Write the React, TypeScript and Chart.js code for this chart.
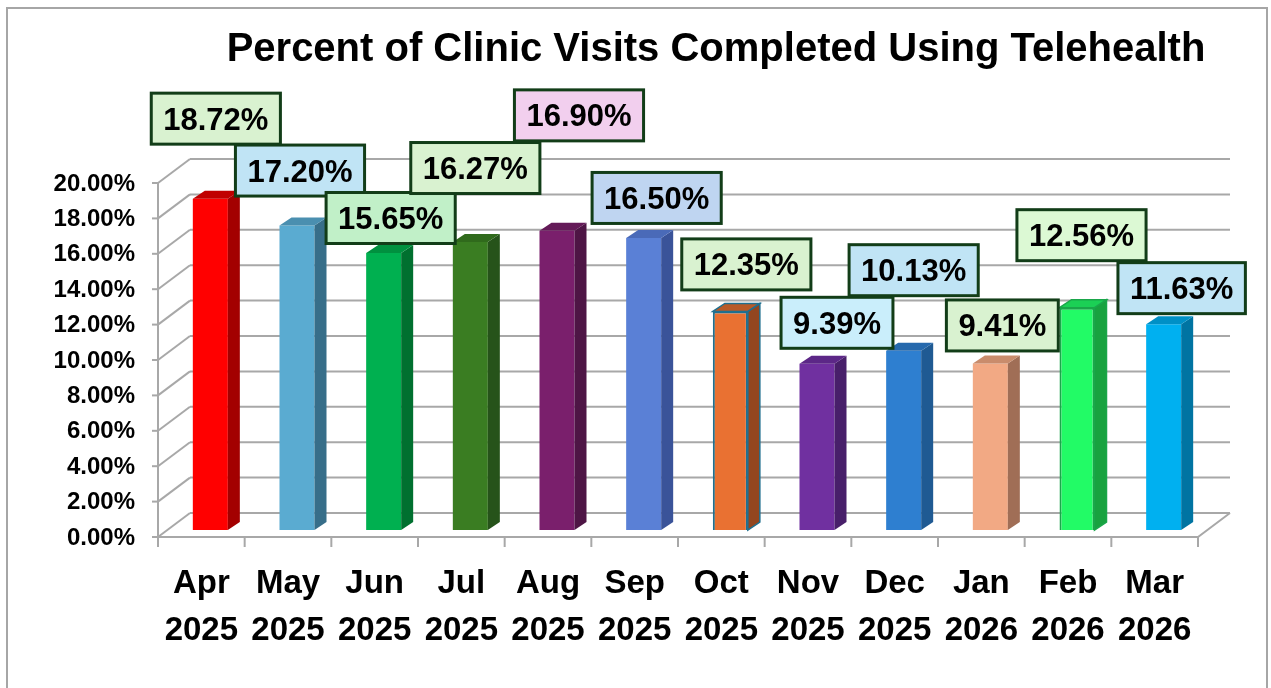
import React, { useEffect, useRef } from 'react';
import { Chart, registerables } from 'chart.js';

Chart.register(...registerables);

// ---------- data ----------
const MONTHS = ['Apr', 'May', 'Jun', 'Jul', 'Aug', 'Sep', 'Oct', 'Nov', 'Dec', 'Jan', 'Feb', 'Mar'];
const YEARS = ['2025', '2025', '2025', '2025', '2025', '2025', '2025', '2025', '2025', '2026', '2026', '2026'];
const TELEHEALTH_PCT = [18.72, 17.2, 15.65, 16.27, 16.9, 16.5, 12.35, 9.39, 10.13, 9.41, 12.56, 11.63];
const Y_TICKS = [0, 2, 4, 6, 8, 10, 12, 14, 16, 18, 20];
const TITLE = 'Percent of Clinic Visits Completed Using Telehealth';

// ---------- styles ----------
const FRONT_COLORS = ['#ff0000', '#5aabd1', '#00b050', '#3a7d22', '#7a1f6c', '#5a80d6', '#e97132', '#7030a0', '#2e7fd0', '#f2a984', '#22fb66', '#00b0f0'];
const SIDE_COLORS = ['#a30000', '#376e89', '#00702f', '#26531a', '#4e1545', '#3a5399', '#93461f', '#481f6a', '#1f5a93', '#a06e56', '#18a23f', '#0074a2'];
const TOP_COLORS = ['#c00000', '#4a8fb0', '#00913f', '#306a1c', '#641a58', '#4a6ab8', '#b85a28', '#5c2787', '#2669ad', '#c98c6c', '#1bd055', '#0090c6'];
const BORDER_COLORS = [null, null, null, null, null, null, '#1f6f8f', null, null, null, '#1aa64a', null];
const LABEL_FILLS = ['#d9f2d0', '#c0e4f5', '#c1f0c8', '#d9f2d0', '#f2cfee', '#bfd5f1', '#d9f2d0', '#caeefb', '#c0e4f5', '#d9f2d0', '#dcf9d4', '#c0e4f5'];
// label box centre, relative to bar centre / bar top (px)
const LABEL_SHIFT: [number, number][] = [
  [5.5, -80], [3, -55], [7, -35], [5, -74], [22, -115.5], [13, -40],
  [16, -47], [20, -41], [10, -80.5], [12, -38], [4.5, -72.5], [18, -36],
];

const FONT = '"Liberation Sans", Arial, sans-serif';
const GRID = '#a8a8a8';
const FRONT_DX = -9, FRONT_DY = 7;   // front plane relative to bar plane
const BACK_DX = 23, BACK_DY = -17;   // back wall relative to bar plane
const SIDE_DX = 12, SIDE_DY = -8;    // bar depth

const framePlugin = {
  id: 'frame3d',
  beforeDatasetsDraw(chart: any) {
    const { ctx, chartArea } = chart;
    const xs = chart.scales.x;
    const ys = chart.scales.y;
    ctx.save();
    // outer border
    ctx.strokeStyle = '#a6a6a6';
    ctx.lineWidth = 2;
    ctx.strokeRect(7, 8, 1260, 720);

    // title
    ctx.fillStyle = '#000';
    ctx.textAlign = 'center';
    ctx.textBaseline = 'alphabetic';
    ctx.font = `bold 36px ${FONT}`;
    const tw = ctx.measureText(TITLE).width;
    const size = Math.min(40, (36 * 985) / tw);
    ctx.font = `bold ${size}px ${FONT}`;
    ctx.fillText(TITLE, 716, 61);

    const left = chartArea.left, right = chartArea.right;
    const fl = left + FRONT_DX, fr = right + FRONT_DX;
    const bl = left + BACK_DX, br = right + BACK_DX;

    ctx.strokeStyle = GRID;
    ctx.lineWidth = 2;
    ctx.lineCap = 'butt';
    // back wall gridlines + left side diagonals + y ticks
    Y_TICKS.forEach((v) => {
      const y = ys.getPixelForValue(v);
      ctx.beginPath();
      ctx.moveTo(bl, y + BACK_DY);
      ctx.lineTo(br, y + BACK_DY);
      ctx.stroke();
      ctx.beginPath();
      ctx.moveTo(fl, y + FRONT_DY);
      ctx.lineTo(bl, y + BACK_DY);
      ctx.stroke();
      ctx.beginPath();
      ctx.moveTo(fl - 6, y + FRONT_DY);
      ctx.lineTo(fl, y + FRONT_DY);
      ctx.stroke();
    });
    // front vertical axis
    const yTop = ys.getPixelForValue(Y_TICKS[Y_TICKS.length - 1]);
    const y0 = ys.getPixelForValue(0);
    ctx.beginPath();
    ctx.moveTo(fl, yTop + FRONT_DY);
    ctx.lineTo(fl, y0 + FRONT_DY);
    ctx.stroke();
    // floor front edge + right diagonal
    ctx.beginPath();
    ctx.moveTo(fl, y0 + FRONT_DY);
    ctx.lineTo(fr, y0 + FRONT_DY);
    ctx.lineTo(br, y0 + BACK_DY);
    ctx.stroke();
    // x ticks
    const step = (right - left) / MONTHS.length;
    for (let k = 0; k <= MONTHS.length; k++) {
      const x = fl + step * k;
      ctx.beginPath();
      ctx.moveTo(x, y0 + FRONT_DY);
      ctx.lineTo(x, y0 + FRONT_DY + 10);
      ctx.stroke();
    }

    // y tick labels
    ctx.fillStyle = '#000';
    ctx.font = `bold 24px ${FONT}`;
    ctx.textAlign = 'right';
    ctx.textBaseline = 'middle';
    Y_TICKS.forEach((v) => {
      ctx.fillText(v.toFixed(2) + '%', 135, ys.getPixelForValue(v) + FRONT_DY + 1);
    });

    // x labels
    ctx.font = `bold 33px ${FONT}`;
    ctx.textAlign = 'center';
    ctx.textBaseline = 'alphabetic';
    MONTHS.forEach((m, i) => {
      const x = xs.getPixelForValue(i) + FRONT_DX;
      ctx.fillText(m, x, 593);
      ctx.fillText(YEARS[i], x, 640);
    });
    ctx.restore();
  },
  afterDatasetsDraw(chart: any) {
    const { ctx } = chart;
    const meta = chart.getDatasetMeta(0);
    ctx.save();
    meta.data.forEach((el: any, i: number) => {
      const { x, y, base, width } = el.getProps(['x', 'y', 'base', 'width'], true);
      const xl = x - width / 2, xr = x + width / 2;
      // side face
      ctx.beginPath();
      ctx.moveTo(xr, y);
      ctx.lineTo(xr + SIDE_DX, y + SIDE_DY);
      ctx.lineTo(xr + SIDE_DX, base + SIDE_DY);
      ctx.lineTo(xr, base);
      ctx.closePath();
      ctx.fillStyle = SIDE_COLORS[i];
      ctx.fill();
      const bc = BORDER_COLORS[i];
      if (bc) { ctx.strokeStyle = bc; ctx.lineWidth = 1.5; ctx.stroke(); }
      // top face
      ctx.beginPath();
      ctx.moveTo(xl, y);
      ctx.lineTo(xl + SIDE_DX, y + SIDE_DY);
      ctx.lineTo(xr + SIDE_DX, y + SIDE_DY);
      ctx.lineTo(xr, y);
      ctx.closePath();
      ctx.fillStyle = TOP_COLORS[i];
      ctx.fill();
      if (bc) { ctx.strokeStyle = bc; ctx.lineWidth = 1.5; ctx.stroke(); }
    });

    // data labels
    ctx.font = `bold 31px ${FONT}`;
    ctx.textAlign = 'center';
    ctx.textBaseline = 'alphabetic';
    meta.data.forEach((el: any, i: number) => {
      const { x, y } = el.getProps(['x', 'y'], true);
      const txt = TELEHEALTH_PCT[i].toFixed(2) + '%';
      const w = ctx.measureText(txt).width + 24;
      const h = 51;
      const cx = x + LABEL_SHIFT[i][0];
      const cy = y + LABEL_SHIFT[i][1];
      ctx.fillStyle = LABEL_FILLS[i];
      ctx.fillRect(cx - w / 2, cy - h / 2, w, h);
      ctx.strokeStyle = '#123d18';
      ctx.lineWidth = 3;
      ctx.strokeRect(cx - w / 2, cy - h / 2, w, h);
      ctx.fillStyle = '#000';
      ctx.fillText(txt, cx, cy + 11);
    });
    ctx.restore();
  },
};

export default function App() {
  const ref = useRef<HTMLCanvasElement>(null);
  useEffect(() => {
    if (!ref.current) return;
    const chart = new Chart(ref.current, {
      type: 'bar',
      data: {
        labels: MONTHS.map((m, i) => `${m} ${YEARS[i]}`),
        datasets: [
          {
            data: TELEHEALTH_PCT,
            backgroundColor: FRONT_COLORS,
            borderColor: BORDER_COLORS.map((c) => c || 'rgba(0,0,0,0)'),
            borderWidth: BORDER_COLORS.map((c) => (c ? 2 : 0)),
            barPercentage: 0.404,
            categoryPercentage: 1,
          },
        ],
      },
      options: {
        responsive: false,
        animation: false,
        devicePixelRatio: 1,
        layout: { padding: { left: 167, right: 64, top: 176, bottom: 158 } },
        plugins: { legend: { display: false }, tooltip: { enabled: false }, title: { display: false } },
        scales: {
          x: { display: false, offset: true, grid: { display: false } },
          y: { display: false, min: 0, max: 20 },
        },
      },
      plugins: [framePlugin],
    });
    return () => chart.destroy();
  }, []);
  return (
    <div style={{ position: 'fixed', left: 0, top: 0, width: 1271, height: 688, background: '#fff' }}>
      <canvas ref={ref} width={1271} height={688} style={{ display: 'block', width: 1271, height: 688 }} />
    </div>
  );
}
